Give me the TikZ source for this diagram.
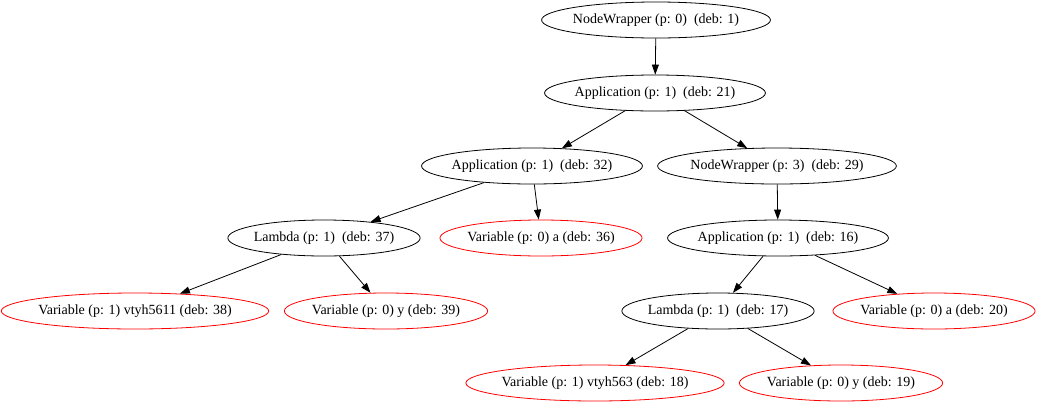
\documentclass[tikz,border=0pt]{standalone}
\usepackage{fontspec}
\setmainfont{Liberation Serif}
\usepackage{tikz}
\usetikzlibrary{shapes.geometric,arrows.meta}

\begin{document}
\begin{tikzpicture}[x=1bp,y=-1bp,
				gnode/.style={ellipse, draw, line width=0.8bp, inner xsep=-2.2bp, inner ysep=2bp,
					minimum height=36bp, font=\fontsize{14bp}{16bp}\selectfont},
				vnode/.style={gnode, draw=red},
				edge/.style={-{Triangle[length=10bp,width=7bp]}, line width=0.8bp}]
				\useasboundingbox (0,0) rectangle (1041,404);
				\node[gnode] (N0) at (656,20) {NodeWrapper (p: 0)\ \ (deb: 1)};
				\node[gnode] (N1) at (655,93) {Application (p: 1)\ \ (deb: 21)};
				\node[gnode] (N2) at (532,166) {Application (p: 1)\ \ (deb: 32)};
				\node[gnode] (N3) at (777,166) {NodeWrapper (p: 3)\ \ (deb: 29)};
				\node[gnode] (N4) at (324,238) {Lambda (p: 1)\ \ (deb: 37)};
				\node[vnode] (N5) at (541,238) {Variable (p: 0) a (deb: 36)};
				\node[gnode] (N6) at (778,238) {Application (p: 1)\ \ (deb: 16)};
				\node[vnode] (N7) at (135,311) {Variable (p: 1) vtyh5611 (deb: 38)};
				\node[vnode] (N8) at (386,311) {Variable (p: 0) y (deb: 39)};
				\node[gnode] (N9) at (718,311) {Lambda (p: 1)\ \ (deb: 17)};
				\node[vnode] (N10) at (934,311) {Variable (p: 0) a (deb: 20)};
				\node[vnode] (N11) at (595,383) {Variable (p: 1) vtyh563 (deb: 18)};
				\node[vnode] (N12) at (841,383) {Variable (p: 0) y (deb: 19)};
				\draw[edge] (N0) -- (N1);
				\draw[edge] (N1) -- (N2);
				\draw[edge] (N1) -- (N3);
				\draw[edge] (N2) -- (N4);
				\draw[edge] (N2) -- (N5);
				\draw[edge] (N3) -- (N6);
				\draw[edge] (N4) -- (N7);
				\draw[edge] (N4) -- (N8);
				\draw[edge] (N6) -- (N9);
				\draw[edge] (N6) -- (N10);
				\draw[edge] (N9) -- (N11);
				\draw[edge] (N9) -- (N12);
				\end{tikzpicture}
\end{document}
